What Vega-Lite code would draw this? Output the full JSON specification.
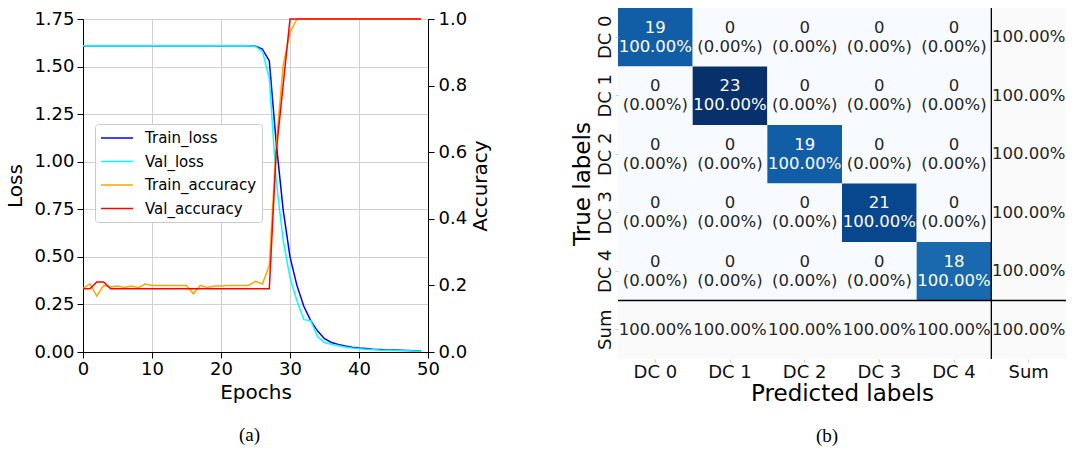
{
  "$schema": "https://vega.github.io/schema/vega-lite/v6.json",
  "background": "white",
  "padding": {"left": 5, "top": 7, "right": 5, "bottom": 5},
  "spacing": 79,
  "config": {
    "font": "DejaVu Sans",
    "view": {"stroke": null},
    "axis": {"labelColor": "black", "titleColor": "black", "titleFontWeight": "normal", "tickColor": "black", "domainColor": "black"}
  },
  "hconcat": [
    {
      "spacing": 0,
      "vconcat": [
        {
          "width": 345,
          "height": 1,
          "data": {"values": []},
          "mark": {"type": "point", "opacity": 0},
          "encoding": {}
        },
        {
          "width": 345,
          "height": 333,
          "view": {"stroke": "#222", "strokeWidth": 1},
          "title": {"text": "(a)", "orient": "bottom", "font": "Liberation Serif", "fontSize": 19, "fontWeight": "normal", "color": "black", "offset": 24, "dx": -6},
          "data": {"values": [
            {"epoch": 0, "Train_loss": 1.609, "Val_loss": 1.609, "Train_accuracy": 0.19, "Val_accuracy": 0.19},
            {"epoch": 1, "Train_loss": 1.609, "Val_loss": 1.609, "Train_accuracy": 0.205, "Val_accuracy": 0.19},
            {"epoch": 2, "Train_loss": 1.609, "Val_loss": 1.609, "Train_accuracy": 0.168, "Val_accuracy": 0.21},
            {"epoch": 3, "Train_loss": 1.609, "Val_loss": 1.609, "Train_accuracy": 0.2, "Val_accuracy": 0.21},
            {"epoch": 4, "Train_loss": 1.609, "Val_loss": 1.609, "Train_accuracy": 0.195, "Val_accuracy": 0.19},
            {"epoch": 5, "Train_loss": 1.609, "Val_loss": 1.609, "Train_accuracy": 0.198, "Val_accuracy": 0.19},
            {"epoch": 6, "Train_loss": 1.609, "Val_loss": 1.609, "Train_accuracy": 0.194, "Val_accuracy": 0.19},
            {"epoch": 7, "Train_loss": 1.609, "Val_loss": 1.609, "Train_accuracy": 0.198, "Val_accuracy": 0.19},
            {"epoch": 8, "Train_loss": 1.609, "Val_loss": 1.609, "Train_accuracy": 0.193, "Val_accuracy": 0.19},
            {"epoch": 9, "Train_loss": 1.609, "Val_loss": 1.609, "Train_accuracy": 0.204, "Val_accuracy": 0.19},
            {"epoch": 10, "Train_loss": 1.609, "Val_loss": 1.609, "Train_accuracy": 0.2, "Val_accuracy": 0.19},
            {"epoch": 11, "Train_loss": 1.609, "Val_loss": 1.609, "Train_accuracy": 0.2, "Val_accuracy": 0.19},
            {"epoch": 12, "Train_loss": 1.609, "Val_loss": 1.609, "Train_accuracy": 0.2, "Val_accuracy": 0.19},
            {"epoch": 13, "Train_loss": 1.609, "Val_loss": 1.609, "Train_accuracy": 0.2, "Val_accuracy": 0.19},
            {"epoch": 14, "Train_loss": 1.609, "Val_loss": 1.609, "Train_accuracy": 0.2, "Val_accuracy": 0.19},
            {"epoch": 15, "Train_loss": 1.609, "Val_loss": 1.609, "Train_accuracy": 0.2, "Val_accuracy": 0.19},
            {"epoch": 16, "Train_loss": 1.609, "Val_loss": 1.609, "Train_accuracy": 0.175, "Val_accuracy": 0.19},
            {"epoch": 17, "Train_loss": 1.609, "Val_loss": 1.609, "Train_accuracy": 0.2, "Val_accuracy": 0.19},
            {"epoch": 18, "Train_loss": 1.609, "Val_loss": 1.609, "Train_accuracy": 0.194, "Val_accuracy": 0.19},
            {"epoch": 19, "Train_loss": 1.609, "Val_loss": 1.609, "Train_accuracy": 0.198, "Val_accuracy": 0.19},
            {"epoch": 20, "Train_loss": 1.609, "Val_loss": 1.609, "Train_accuracy": 0.198, "Val_accuracy": 0.19},
            {"epoch": 21, "Train_loss": 1.609, "Val_loss": 1.609, "Train_accuracy": 0.2, "Val_accuracy": 0.19},
            {"epoch": 22, "Train_loss": 1.609, "Val_loss": 1.609, "Train_accuracy": 0.2, "Val_accuracy": 0.19},
            {"epoch": 23, "Train_loss": 1.609, "Val_loss": 1.609, "Train_accuracy": 0.2, "Val_accuracy": 0.19},
            {"epoch": 24, "Train_loss": 1.609, "Val_loss": 1.609, "Train_accuracy": 0.2, "Val_accuracy": 0.19},
            {"epoch": 25, "Train_loss": 1.607, "Val_loss": 1.605, "Train_accuracy": 0.212, "Val_accuracy": 0.19},
            {"epoch": 26, "Train_loss": 1.592, "Val_loss": 1.58, "Train_accuracy": 0.204, "Val_accuracy": 0.19},
            {"epoch": 27, "Train_loss": 1.53, "Val_loss": 1.44, "Train_accuracy": 0.26, "Val_accuracy": 0.19},
            {"epoch": 28, "Train_loss": 1.1, "Val_loss": 0.9, "Train_accuracy": 0.62, "Val_accuracy": 0.6},
            {"epoch": 29, "Train_loss": 0.75, "Val_loss": 0.59, "Train_accuracy": 0.86, "Val_accuracy": 0.8},
            {"epoch": 30, "Train_loss": 0.5, "Val_loss": 0.39, "Train_accuracy": 0.96, "Val_accuracy": 1.0},
            {"epoch": 31, "Train_loss": 0.35, "Val_loss": 0.27, "Train_accuracy": 1.0, "Val_accuracy": 1.0},
            {"epoch": 32, "Train_loss": 0.24, "Val_loss": 0.17, "Train_accuracy": 1.0, "Val_accuracy": 1.0},
            {"epoch": 33, "Train_loss": 0.165, "Val_loss": 0.165, "Train_accuracy": 1.0, "Val_accuracy": 1.0},
            {"epoch": 34, "Train_loss": 0.11, "Val_loss": 0.08, "Train_accuracy": 1.0, "Val_accuracy": 1.0},
            {"epoch": 35, "Train_loss": 0.07, "Val_loss": 0.05, "Train_accuracy": 1.0, "Val_accuracy": 1.0},
            {"epoch": 36, "Train_loss": 0.05, "Val_loss": 0.04, "Train_accuracy": 1.0, "Val_accuracy": 1.0},
            {"epoch": 37, "Train_loss": 0.04, "Val_loss": 0.033, "Train_accuracy": 1.0, "Val_accuracy": 1.0},
            {"epoch": 38, "Train_loss": 0.031, "Val_loss": 0.026, "Train_accuracy": 1.0, "Val_accuracy": 1.0},
            {"epoch": 39, "Train_loss": 0.025, "Val_loss": 0.021, "Train_accuracy": 1.0, "Val_accuracy": 1.0},
            {"epoch": 40, "Train_loss": 0.021, "Val_loss": 0.017, "Train_accuracy": 1.0, "Val_accuracy": 1.0},
            {"epoch": 41, "Train_loss": 0.018, "Val_loss": 0.014, "Train_accuracy": 1.0, "Val_accuracy": 1.0},
            {"epoch": 42, "Train_loss": 0.015, "Val_loss": 0.012, "Train_accuracy": 1.0, "Val_accuracy": 1.0},
            {"epoch": 43, "Train_loss": 0.013, "Val_loss": 0.01, "Train_accuracy": 1.0, "Val_accuracy": 1.0},
            {"epoch": 44, "Train_loss": 0.011, "Val_loss": 0.009, "Train_accuracy": 1.0, "Val_accuracy": 1.0},
            {"epoch": 45, "Train_loss": 0.01, "Val_loss": 0.008, "Train_accuracy": 1.0, "Val_accuracy": 1.0},
            {"epoch": 46, "Train_loss": 0.009, "Val_loss": 0.007, "Train_accuracy": 1.0, "Val_accuracy": 1.0},
            {"epoch": 47, "Train_loss": 0.008, "Val_loss": 0.006, "Train_accuracy": 1.0, "Val_accuracy": 1.0},
            {"epoch": 48, "Train_loss": 0.007, "Val_loss": 0.005, "Train_accuracy": 1.0, "Val_accuracy": 1.0},
            {"epoch": 49, "Train_loss": 0.006, "Val_loss": 0.005, "Train_accuracy": 1.0, "Val_accuracy": 1.0}
          ]},
          "encoding": {
            "x": {"field": "epoch", "type": "quantitative", "scale": {"domain": [0, 50], "nice": false},
              "axis": {"title": "Epochs", "values": [0, 10, 20, 30, 40, 50], "grid": true, "gridColor": "#d0d0d0", "labelFontSize": 18, "titleFontSize": 20, "tickSize": 6, "labelPadding": 2, "titlePadding": 4, "labelFlush": false}}
          },
          "layer": [
            {
              "layer": [
                {
                  "mark": {"type": "line", "strokeWidth": 1.5},
                  "encoding": {
                    "y": {"field": "Train_loss", "type": "quantitative", "scale": {"domain": [0, 1.75], "nice": false},
                      "axis": {"title": "Loss", "values": [0, 0.25, 0.5, 0.75, 1, 1.25, 1.5, 1.75], "format": ".2f", "grid": true, "gridColor": "#d0d0d0", "labelFontSize": 18, "titleFontSize": 20, "tickSize": 6, "labelPadding": 3, "titlePadding": 8}},
                    "color": {"datum": "Train_loss", "type": "nominal",
                      "scale": {"domain": ["Train_loss", "Val_loss", "Train_accuracy", "Val_accuracy"], "range": ["#0000ff", "#00ffff", "#ffa500", "#ff0000"]},
                      "legend": {"orient": "none", "legendX": 12, "legendY": 116, "title": null, "symbolType": "M-2,0H2", "symbolSize": 256, "symbolStrokeWidth": 1.5, "labelFontSize": 15, "labelColor": "black", "labelOffset": 19, "rowPadding": 6.5, "padding": 5, "symbolOffset": 8, "fillColor": "white", "strokeColor": "#cccccc", "cornerRadius": 3}}
                  }
                },
                {
                  "mark": {"type": "line", "strokeWidth": 1.5},
                  "encoding": {
                    "y": {"field": "Val_loss", "type": "quantitative", "scale": {"domain": [0, 1.75], "nice": false},
                      "axis": {"title": "Loss", "values": [0, 0.25, 0.5, 0.75, 1, 1.25, 1.5, 1.75], "format": ".2f", "grid": true, "gridColor": "#d0d0d0", "labelFontSize": 18, "titleFontSize": 20, "tickSize": 6, "labelPadding": 3, "titlePadding": 8}},
                    "color": {"datum": "Val_loss", "type": "nominal"}
                  }
                }
              ]
            },
            {
              "layer": [
                {
                  "mark": {"type": "line", "strokeWidth": 1.5},
                  "encoding": {
                    "y": {"field": "Train_accuracy", "type": "quantitative", "scale": {"domain": [0, 1], "nice": false},
                      "axis": {"orient": "right", "title": "Accuracy", "titleAngle": 270, "titleBaseline": "top", "values": [0, 0.2, 0.4, 0.6, 0.8, 1], "format": ".1f", "grid": false, "labelFontSize": 18, "titleFontSize": 20, "tickSize": 6, "labelPadding": 4, "titlePadding": 4}},
                    "color": {"datum": "Train_accuracy", "type": "nominal"}
                  }
                },
                {
                  "mark": {"type": "line", "strokeWidth": 1.5},
                  "encoding": {
                    "y": {"field": "Val_accuracy", "type": "quantitative", "scale": {"domain": [0, 1], "nice": false},
                      "axis": {"orient": "right", "title": "Accuracy", "titleAngle": 270, "titleBaseline": "top", "values": [0, 0.2, 0.4, 0.6, 0.8, 1], "format": ".1f", "grid": false, "labelFontSize": 18, "titleFontSize": 20, "tickSize": 6, "labelPadding": 4, "titlePadding": 4}},
                    "color": {"datum": "Val_accuracy", "type": "nominal"}
                  }
                }
              ]
            }
          ],
          "resolve": {"scale": {"y": "independent"}}
        }
      ]
    },
    {
      "width": 448,
      "height": 351,
      "title": {"text": "(b)", "orient": "bottom", "font": "Liberation Serif", "fontSize": 19, "fontWeight": "normal", "color": "black", "offset": 22, "dx": -15},
      "data": {"values": [
        {"t": "DC 0", "p": "DC 0", "n": 19, "cnt": "19", "pct": "100.00%"},
        {"t": "DC 0", "p": "DC 1", "n": 0, "cnt": "0", "pct": "(0.00%)"},
        {"t": "DC 0", "p": "DC 2", "n": 0, "cnt": "0", "pct": "(0.00%)"},
        {"t": "DC 0", "p": "DC 3", "n": 0, "cnt": "0", "pct": "(0.00%)"},
        {"t": "DC 0", "p": "DC 4", "n": 0, "cnt": "0", "pct": "(0.00%)"},
        {"t": "DC 0", "p": "Sum", "n": null, "cnt": "", "pct": "100.00%"},
        {"t": "DC 1", "p": "DC 0", "n": 0, "cnt": "0", "pct": "(0.00%)"},
        {"t": "DC 1", "p": "DC 1", "n": 23, "cnt": "23", "pct": "100.00%"},
        {"t": "DC 1", "p": "DC 2", "n": 0, "cnt": "0", "pct": "(0.00%)"},
        {"t": "DC 1", "p": "DC 3", "n": 0, "cnt": "0", "pct": "(0.00%)"},
        {"t": "DC 1", "p": "DC 4", "n": 0, "cnt": "0", "pct": "(0.00%)"},
        {"t": "DC 1", "p": "Sum", "n": null, "cnt": "", "pct": "100.00%"},
        {"t": "DC 2", "p": "DC 0", "n": 0, "cnt": "0", "pct": "(0.00%)"},
        {"t": "DC 2", "p": "DC 1", "n": 0, "cnt": "0", "pct": "(0.00%)"},
        {"t": "DC 2", "p": "DC 2", "n": 19, "cnt": "19", "pct": "100.00%"},
        {"t": "DC 2", "p": "DC 3", "n": 0, "cnt": "0", "pct": "(0.00%)"},
        {"t": "DC 2", "p": "DC 4", "n": 0, "cnt": "0", "pct": "(0.00%)"},
        {"t": "DC 2", "p": "Sum", "n": null, "cnt": "", "pct": "100.00%"},
        {"t": "DC 3", "p": "DC 0", "n": 0, "cnt": "0", "pct": "(0.00%)"},
        {"t": "DC 3", "p": "DC 1", "n": 0, "cnt": "0", "pct": "(0.00%)"},
        {"t": "DC 3", "p": "DC 2", "n": 0, "cnt": "0", "pct": "(0.00%)"},
        {"t": "DC 3", "p": "DC 3", "n": 21, "cnt": "21", "pct": "100.00%"},
        {"t": "DC 3", "p": "DC 4", "n": 0, "cnt": "0", "pct": "(0.00%)"},
        {"t": "DC 3", "p": "Sum", "n": null, "cnt": "", "pct": "100.00%"},
        {"t": "DC 4", "p": "DC 0", "n": 0, "cnt": "0", "pct": "(0.00%)"},
        {"t": "DC 4", "p": "DC 1", "n": 0, "cnt": "0", "pct": "(0.00%)"},
        {"t": "DC 4", "p": "DC 2", "n": 0, "cnt": "0", "pct": "(0.00%)"},
        {"t": "DC 4", "p": "DC 3", "n": 0, "cnt": "0", "pct": "(0.00%)"},
        {"t": "DC 4", "p": "DC 4", "n": 18, "cnt": "18", "pct": "100.00%"},
        {"t": "DC 4", "p": "Sum", "n": null, "cnt": "", "pct": "100.00%"},
        {"t": "Sum", "p": "DC 0", "n": null, "cnt": "", "pct": "100.00%"},
        {"t": "Sum", "p": "DC 1", "n": null, "cnt": "", "pct": "100.00%"},
        {"t": "Sum", "p": "DC 2", "n": null, "cnt": "", "pct": "100.00%"},
        {"t": "Sum", "p": "DC 3", "n": null, "cnt": "", "pct": "100.00%"},
        {"t": "Sum", "p": "DC 4", "n": null, "cnt": "", "pct": "100.00%"},
        {"t": "Sum", "p": "Sum", "n": null, "cnt": "", "pct": "100.00%"}
      ]},
      "layer": [
        {
          "transform": [{"filter": "datum.n != null"}],
          "mark": {"type": "rect"},
          "encoding": {
            "x": {"field": "p", "type": "nominal", "scale": {"domain": ["DC 0", "DC 1", "DC 2", "DC 3", "DC 4", "Sum"], "paddingInner": 0, "paddingOuter": 0},
              "axis": {"title": "Predicted labels", "labelAngle": 0, "labelFontSize": 18, "titleFontSize": 23, "domain": false, "tickSize": 3, "tickColor": "#cccccc", "labelPadding": 1, "titlePadding": 1, "labelColor": "#111"}},
            "y": {"field": "t", "type": "nominal", "scale": {"domain": ["DC 0", "DC 1", "DC 2", "DC 3", "DC 4", "Sum"], "paddingInner": 0, "paddingOuter": 0},
              "axis": {"title": "True labels", "labelAngle": 270, "labelFontSize": 18, "titleFontSize": 23, "domain": false, "tickSize": 3, "tickColor": "#cccccc", "labelPadding": 1, "titlePadding": 2, "labelColor": "#111"}},
            "color": {"field": "n", "type": "quantitative",
              "scale": {"type": "linear", "interpolate": "rgb", "domain": [0, 2.875, 5.75, 8.625, 11.5, 14.375, 17.25, 20.125, 23], "range": ["#f7fbff", "#deebf7", "#c6dbef", "#9ecae1", "#6baed6", "#4292c6", "#2171b5", "#08519c", "#08306b"]},
              "legend": null}
          }
        },
        {
          "transform": [{"filter": "datum.n == null"}],
          "mark": {"type": "rect", "color": "#fafafa"},
          "encoding": {
            "x": {"field": "p", "type": "nominal"},
            "y": {"field": "t", "type": "nominal"}
          }
        },
        {
          "transform": [{"filter": "datum.n != null"}],
          "mark": {"type": "text", "fontSize": 16.5, "baseline": "middle", "align": "center", "dy": -9.5},
          "encoding": {
            "x": {"field": "p", "type": "nominal"},
            "y": {"field": "t", "type": "nominal"},
            "text": {"field": "cnt"},
            "color": {"condition": {"test": "datum.n > 12", "value": "white"}, "value": "#262626"}
          }
        },
        {
          "transform": [{"filter": "datum.n != null"}],
          "mark": {"type": "text", "fontSize": 16.5, "baseline": "middle", "align": "center", "dy": 9.5},
          "encoding": {
            "x": {"field": "p", "type": "nominal"},
            "y": {"field": "t", "type": "nominal"},
            "text": {"field": "pct"},
            "color": {"condition": {"test": "datum.n > 12", "value": "white"}, "value": "#262626"}
          }
        },
        {
          "transform": [{"filter": "datum.n == null"}],
          "mark": {"type": "text", "fontSize": 16.5, "baseline": "middle", "align": "center", "color": "#262626"},
          "encoding": {
            "x": {"field": "p", "type": "nominal"},
            "y": {"field": "t", "type": "nominal"},
            "text": {"field": "pct"}
          }
        },
        {
          "data": {"values": [{"p": "Sum"}]},
          "mark": {"type": "rule", "color": "black", "strokeWidth": 1.3},
          "encoding": {"x": {"field": "p", "type": "nominal", "bandPosition": 0}}
        },
        {
          "data": {"values": [{"t": "Sum"}]},
          "mark": {"type": "rule", "color": "black", "strokeWidth": 1.3},
          "encoding": {"y": {"field": "t", "type": "nominal", "bandPosition": 0}}
        }
      ]
    }
  ]
}
